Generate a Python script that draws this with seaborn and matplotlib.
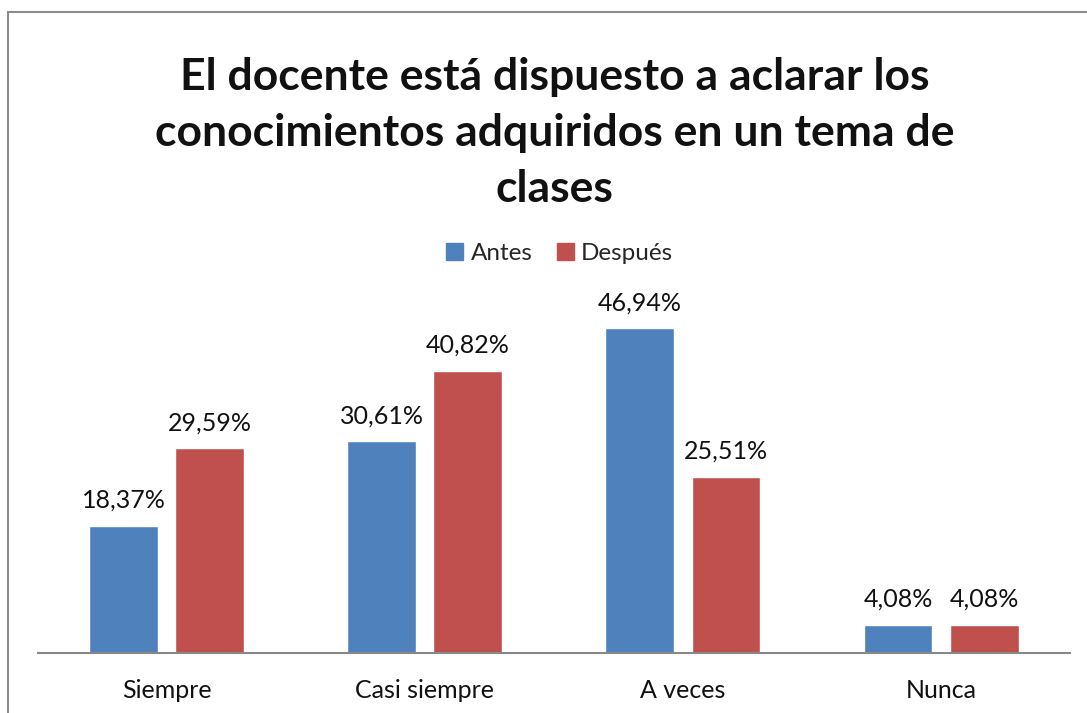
import pandas as pd
import matplotlib.pyplot as plt
import seaborn as sns
from matplotlib.patches import Rectangle

# Datos
categorias = ['Siempre', 'Casi siempre', 'A veces', 'Nunca']
antes = [18.37, 30.61, 46.94, 4.08]
despues = [29.59, 40.82, 25.51, 4.08]
series = ['Antes', 'Después']
colores = ['#4F81BD', '#C0504D']

df = pd.DataFrame({
    'Categoria': categorias * 2,
    'Periodo': ['Antes'] * 4 + ['Después'] * 4,
    'Valor': antes + despues,
})

sns.set_style('white')
plt.rcParams['font.family'] = ['Lato', 'DejaVu Sans']

fig = plt.figure(figsize=(10.87, 7.13), dpi=100)
ax = fig.add_axes([0.0345, 0.0842, 0.95, 0.485])

sns.barplot(data=df, x='Categoria', y='Valor', hue='Periodo', order=categorias,
            hue_order=series, palette=colores, width=0.667, gap=0.2,
            saturation=1, ax=ax, legend=False)

ax.set_xlim(-0.5, 3.5)
ax.set_ylim(0, 50)

# Etiquetas de valores
for cont in ax.containers:
    etiquetas = [f'{v:.2f}%'.replace('.', ',') for v in cont.datavalues]
    ax.bar_label(cont, labels=etiquetas, padding=10, fontsize=18, color='#111111')

ax.set_xlabel('')
ax.set_ylabel('')
ax.set_yticks([])
ax.tick_params(axis='x', length=0, pad=19, labelsize=18, labelcolor='#111111')
for s in ['top', 'right', 'left']:
    ax.spines[s].set_visible(False)
ax.spines['bottom'].set_color('#888888')
ax.spines['bottom'].set_linewidth(1.5)

# Título
fig.text(0.51, 0.707, 'El docente está dispuesto a aclarar los\nconocimientos adquiridos en un tema de\nclases',
         ha='center', va='bottom', fontsize=32, fontweight='bold', linespacing=1.48, color='#111111')

# Leyenda
handles = [Rectangle((0, 0), 1, 1, color=c) for c in colores]
fig.legend(handles, series, loc='center', bbox_to_anchor=(0.515, 0.645), ncol=2,
           frameon=False, fontsize=17.5, handlelength=0.7, handleheight=0.7,
           handletextpad=0.3, columnspacing=1.0)

# Marco del gráfico
fig.patches.append(Rectangle((8 / 1087, -0.1), 1.2, 1 - 12 / 713 + 0.1, transform=fig.transFigure,
                             fill=False, edgecolor='#8c8c8c', linewidth=1.5))

fig.savefig('out.png', dpi=100)
